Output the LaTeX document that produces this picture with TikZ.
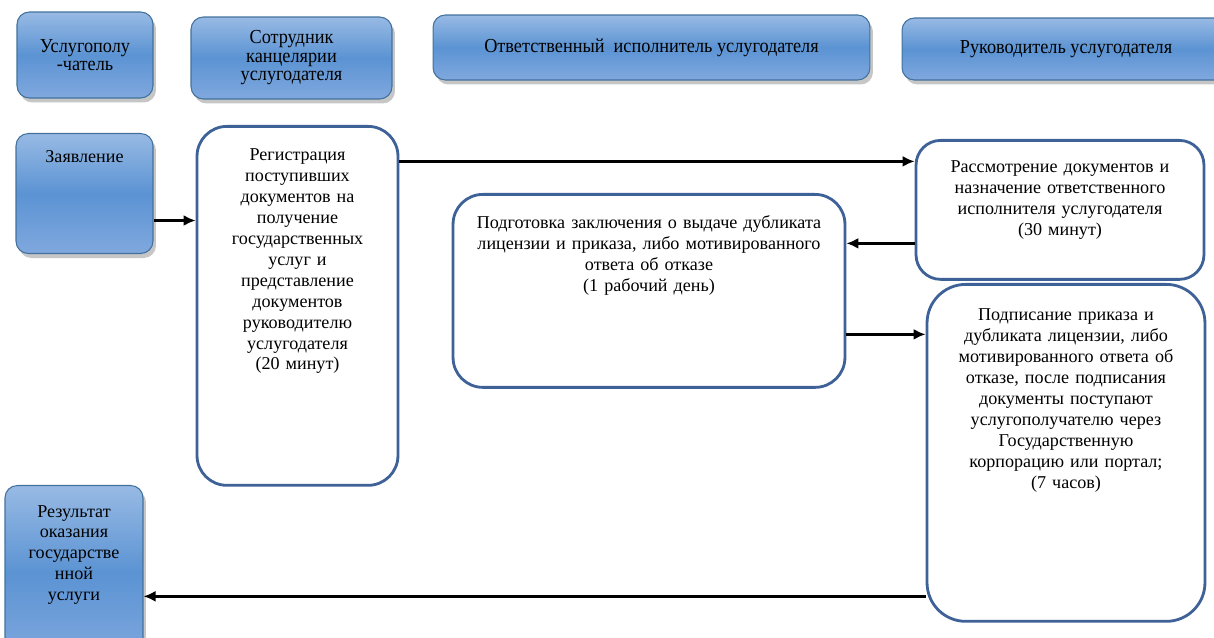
\documentclass[tikz,border=0pt]{standalone}
\usepackage{fontspec}
\setmainfont{Liberation Serif}
\newfontfamily\bodyfont{Liberation Serif}
\newfontfamily\headfont{Liberation Serif}[FakeStretch=0.92]
\usetikzlibrary{arrows.meta,shadows}

\definecolor{laneline}{RGB}{65,113,156}
\definecolor{lanetop}{RGB}{152,186,228}
\definecolor{lanemid}{RGB}{91,147,211}
\definecolor{lanebot}{RGB}{128,168,222}
\definecolor{stepline}{RGB}{62,98,152}

\tikzset{
  lane/.style={draw=laneline, line width=0.6pt, rounded corners=7pt,
    top color=lanetop, bottom color=lanebot, middle color=lanemid,
    drop shadow={opacity=0.45, shadow xshift=0.6mm, shadow yshift=-0.9mm},
    inner sep=0pt, align=center, font=\headfont\fontsize{11.3}{10.5}\selectfont},
  stepbox/.style={draw=stepline, line width=1.6pt, fill=white,
    inner sep=0pt, align=center, font=\bodyfont\fontsize{10.3}{11.9}\selectfont},
  flow/.style={->, line width=1.5pt}
}

\begin{document}
\begin{tikzpicture}[x=0.02cm, y=-0.02cm, >={Latex[length=2.4mm,width=2.2mm]}]
        \useasboundingbox (0,0) rectangle (1214,638);
        \clip (0,0) rectangle (1214,638);

        % Lane headers
        \node[lane, minimum width=2.72cm, minimum height=1.72cm] (usl) at (85,55) {Услугополу\\-чатель};
        \node[lane, minimum width=4.02cm, minimum height=1.64cm] (sotr) at (291.5,58) {Сотрудник\\канцелярии\\услугодателя};
        \node[lane, minimum width=8.74cm, minimum height=1.3cm] (otv) at (651.5,47.5) {Ответственный\ \ исполнитель услугодателя};
        \node[lane, minimum width=6.56cm, minimum height=1.24cm] (ruk) at (1066,49) {Руководитель услугодателя};

        % Start and result
        \node[lane, anchor=north, font=\bodyfont\fontsize{10.3}{11.9}\selectfont, text width=2.74cm, text height=0.57cm, text depth=1.83cm] (zayav) at (84.5,133) {Заявление};
        \node[lane, anchor=north, font=\bodyfont\fontsize{10.3}{11.9}\selectfont, text width=2.76cm, text height=0.63cm, text depth=2.87cm] (rez) at (74,485) {Результат\\оказания\\государстве\\нной\\услуги};

        % Process steps
        \node[stepbox, anchor=north, rounded corners=17pt, text width=4.02cm, text height=0.69cm, text depth=6.49cm] (reg) at (297.5,125)
          {Регистрация\\поступивших\\документов на\\получение\\государственных\\услуг и\\представление\\документов\\руководителю\\услугодателя\\(20 минут)};
        \node[stepbox, anchor=north, rounded corners=14pt, text width=5.76cm, text height=0.65cm, text depth=2.13cm] (rassm) at (1060,139)
          {Рассмотрение документов и\\назначение ответственного\\исполнителя услугодателя\\(30 минут)};
        \node[stepbox, anchor=north, rounded corners=17pt, text width=7.84cm, text height=0.69cm, text depth=3.17cm] (podg) at (649,193)
          {Подготовка заключения о выдаче дубликата\\лицензии и приказа, либо мотивированного\\ответа об отказе\\(1 рабочий день)};
        \node[stepbox, anchor=north, rounded corners=22pt, text width=5.56cm, text height=0.73cm, text depth=6.01cm] (podp) at (1066,283)
          {Подписание приказа и\\дубликата лицензии, либо\\мотивированного ответа об\\отказе, после подписания\\документы поступают\\услугополучателю через\\Государственную\\корпорацию или портал;\\(7 часов)};

        % Connectors
        \path ([yshift=-0.54cm]zayav.east) coordinate (a1);
        \draw[flow] (a1) -- (a1 -| reg.west);

        \path ([yshift=2.89cm]reg.east) coordinate (a2);
        \draw[flow] (a2) -- (a2 -| rassm.west);

        \path ([yshift=-0.67cm]rassm.west) coordinate (a3);
        \draw[flow] (a3) -- (a3 -| podg.east);

        \path ([yshift=-0.87cm]podg.east) coordinate (a4);
        \draw[flow] (a4) -- (a4 -| podp.west);

        \path ([yshift=-2.87cm]podp.west) coordinate (a5);
        \draw[flow] (a5) -- (a5 -| rez.east);
      \end{tikzpicture}
\end{document}
